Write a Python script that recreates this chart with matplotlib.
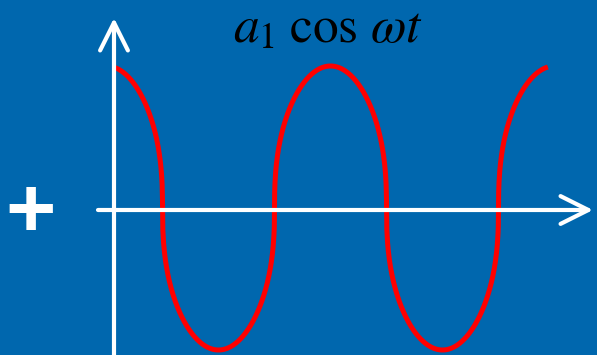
import numpy as np
import matplotlib.pyplot as plt

# 曲線のパラメータ (ωt はラジアン)
amp = 1.0
phase = 0.21           # 縦軸の位置での位相
wt_end = 12.17         # 曲線の終わり
shape = 0.4            # 手描き風に角を丸めた余弦の指数
title = r'$a_1\;\cos\,\omega t$'

bg = '#0067AE'
px_per_rad = 224 / (2 * np.pi)
px_per_amp = 142

W, H = 597, 355
x0_px, y0_px = 114, 208   # 原点のピクセル位置

fig = plt.figure(figsize=(W / 100, H / 100), dpi=100, facecolor=bg)
ax = fig.add_axes([0, 0, 1, 1])
ax.set_facecolor(bg)
ax.set_xlim(-x0_px / px_per_rad, (W - x0_px) / px_per_rad)
ax.set_ylim((y0_px - H) / px_per_amp, y0_px / px_per_amp)
ax.axis('off')

# 余弦曲線
wt = np.linspace(0, wt_end, 1200)
c = np.cos(wt + phase)
ax.plot(wt, amp * np.sign(c) * np.abs(c) ** shape, color='#FF0000', lw=3.6,
        solid_capstyle='butt', zorder=2)

def px(x, y):
    return ((x - x0_px) / px_per_rad, (y0_px - y) / px_per_amp)

arrow = dict(arrowstyle='->,head_length=1.0,head_width=0.5', color='white',
             lw=3.0, mutation_scale=20, shrinkA=0, shrinkB=0)
# 横軸
ax.annotate('', xy=px(593, 210), xytext=px(98, 210), arrowprops=arrow, zorder=3)
# 縦軸
ax.annotate('', xy=px(114, 18), xytext=px(114, 360), arrowprops=arrow, zorder=3)

plt.rcParams['mathtext.fontset'] = 'stix'
ax.text(*px(328, 42), title, fontsize=37, color='black', ha='center',
        va='baseline')
ax.text(*px(31, 215), '+', fontsize=62, color='white', fontweight='bold',
        family='Liberation Sans', ha='center', va='center')

fig.savefig('out.png', dpi=100, facecolor=bg)
